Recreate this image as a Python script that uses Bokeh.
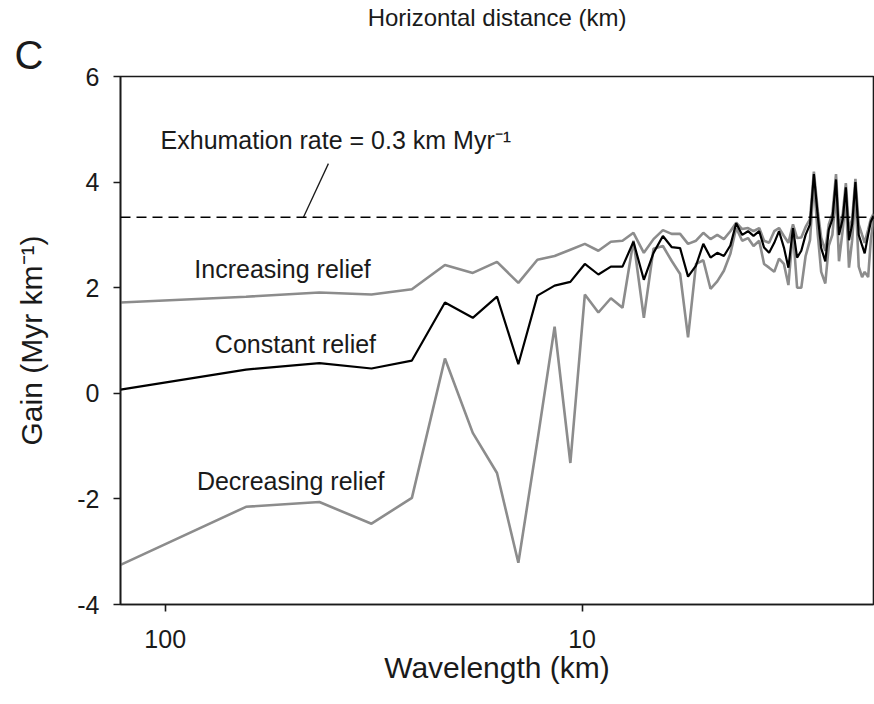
from bokeh.plotting import figure
from bokeh.models import Range1d, FixedTicker, Span, Label, Title
from bokeh.embed import file_html
from bokeh.resources import INLINE

# Wavelengths (km) of the spectral components, longest first
wavelength_km = [
    128, 64, 42.67, 32, 25.6, 21.33, 18.29, 16, 14.22, 12.8,
    11.64, 10.67, 9.85, 9.14, 8.53, 8, 7.53, 7.11, 6.74, 6.4,
    6.1, 5.82, 5.57, 5.33, 5.12, 4.92, 4.74, 4.57, 4.41, 4.27,
    4.13, 4, 3.88, 3.76, 3.66, 3.56, 3.46, 3.37, 3.28, 3.2,
    3.12, 3.05, 2.98, 2.91, 2.84, 2.78, 2.72, 2.67, 2.61, 2.56,
    2.51, 2.46, 2.42, 2.37, 2.33, 2.29, 2.25, 2.21, 2.17, 2.13,
    2.1, 2.06, 2.03, 2,
]

# Gain (Myr km^-1) for the three relief scenarios
gain_increasing = [
    1.72, 1.83, 1.91, 1.87, 1.97, 2.43, 2.28, 2.49, 2.09, 2.53,
    2.60, 2.72, 2.83, 2.70, 2.87, 2.89, 3.04, 2.66, 2.92, 3.09,
    3.02, 3.02, 2.83, 2.89, 3.04, 2.92, 3.00, 2.92, 3.07, 3.23,
    3.11, 3.13, 3.07, 3.13, 2.89, 2.85, 3.07, 3.13, 2.98, 2.85,
    3.20, 2.94, 2.95, 3.15, 3.30, 4.20, 3.45, 2.95, 2.70, 3.20,
    3.40, 4.15, 3.15, 3.40, 3.98, 3.10, 3.30, 4.06, 3.20, 3.00,
    2.85, 3.10, 3.30, 3.40,
]
gain_constant = [
    0.07, 0.45, 0.57, 0.47, 0.62, 1.72, 1.43, 1.83, 0.55, 1.85,
    2.04, 2.11, 2.45, 2.25, 2.40, 2.40, 2.87, 2.15, 2.66, 2.98,
    2.77, 2.75, 2.21, 2.42, 2.83, 2.57, 2.66, 2.60, 2.80, 3.22,
    3.00, 3.07, 2.98, 3.07, 2.76, 2.66, 2.85, 3.07, 2.76, 2.38,
    3.13, 2.57, 2.70, 3.00, 3.20, 4.15, 3.35, 2.75, 2.50, 3.10,
    3.30, 4.05, 3.00, 3.30, 3.90, 2.90, 3.20, 4.00, 3.00, 2.80,
    2.65, 3.00, 3.25, 3.36,
]
gain_decreasing = [
    -3.25, -2.15, -2.06, -2.47, -1.98, 0.66, -0.75, -1.51, -3.21, -0.90,
    1.26, -1.32, 1.87, 1.53, 1.80, 1.62, 2.89, 1.43, 2.74, 2.79,
    2.51, 2.26, 1.06, 2.45, 2.52, 1.98, 2.12, 2.32, 2.64, 3.13,
    2.89, 2.94, 2.79, 2.89, 2.45, 2.38, 2.30, 2.55, 2.45, 2.05,
    3.07, 2.00, 2.00, 2.60, 2.90, 4.00, 3.00, 2.30, 2.08, 2.80,
    3.00, 3.80, 2.50, 3.10, 3.70, 2.38, 2.90, 3.80, 2.40, 2.20,
    2.30, 2.20, 2.90, 3.30,
]

exhumation_rate = 0.3  # km Myr^-1; steady-state gain is its inverse

x_ticks = [100, 10]
y_ticks = [-4, -2, 0, 2, 4, 6]

FONT = "Liberation Sans"
INK = "#1a1a1a"
GREY = "#8c8c8c"

p = figure(
    width=874, height=704,
    x_axis_type="log",
    x_range=Range1d(128, 2), y_range=Range1d(-4, 6),
    output_backend="svg", toolbar_location=None,
    min_border_left=120, min_border_right=1,
    min_border_top=76, min_border_bottom=100,
)
p.title.visible = False
p.background_fill_color = "white"
p.border_fill_color = "white"
p.outline_line_color = INK
p.outline_line_width = 1.6
p.xgrid.visible = False
p.ygrid.visible = False

# Panel letter (nearest the frame) and the axis title of the panel above it
p.add_layout(Title(text="C", align="left", offset=-106, standoff=0,
                   text_font=FONT, text_font_size="40px",
                   text_font_style="normal", text_color=INK), "above")
p.add_layout(Title(text="Horizontal distance (km)", align="center", offset=-8,
                   standoff=0, text_font=FONT, text_font_size="24px",
                   text_font_style="normal", text_color=INK), "above")

# Axes
p.xaxis.ticker = FixedTicker(ticks=x_ticks, minor_ticks=[])
p.xaxis.major_label_overrides = {t: str(t) for t in x_ticks}
p.yaxis.ticker = FixedTicker(ticks=y_ticks, minor_ticks=[])
p.yaxis.major_label_overrides = {t: str(t) for t in y_ticks}
p.xaxis.axis_label = "Wavelength (km)"
p.yaxis.axis_label = "Gain (Myr km\u207b\u00b9)"
for ax in (p.xaxis, p.yaxis):
    ax.axis_line_color = INK
    ax.axis_line_width = 1.6
    ax.major_tick_line_color = INK
    ax.major_tick_line_width = 1.6
    ax.major_tick_out = 7
    ax.major_tick_in = 0
    ax.minor_tick_line_color = None
    ax.major_label_text_font = FONT
    ax.major_label_text_font_size = "25px"
    ax.major_label_text_color = INK
    ax.axis_label_text_font = FONT
    ax.axis_label_text_font_size = "30px"
    ax.axis_label_text_font_style = "normal"
    ax.axis_label_text_color = INK
p.xaxis.major_label_standoff = 18
p.xaxis.axis_label_standoff = 0
p.yaxis.major_label_standoff = 14
p.yaxis.major_label_orientation = "horizontal"
p.yaxis.axis_label_standoff = 26

# Gain curves
p.line(wavelength_km, gain_increasing, line_color=GREY, line_width=2.6)
p.line(wavelength_km, gain_decreasing, line_color=GREY, line_width=2.6)
p.line(wavelength_km, gain_constant, line_color="black", line_width=2.2)

# Steady-state gain for the given exhumation rate
p.add_layout(Span(location=1.0 / exhumation_rate, dimension="width",
                  line_color="black", line_width=1.6, line_dash="10 6"))

def note(text, x, y, align="center"):
    p.add_layout(Label(x=x, y=y, text=text, text_font=FONT,
                       text_font_size="25px", text_color=INK,
                       text_align=align, text_baseline="middle"))

note("Exhumation rate = 0.3 km Myr\u207b\u00b9", 102.6, 4.8, align="left")
p.segment(x0=[40.6], y0=[4.35], x1=[46.6], y1=[1.0 / exhumation_rate],
          line_color=INK, line_width=1.3)
note("Increasing relief", 52.3, 2.35)
note("Constant relief", 48.7, 0.94)
note("Decreasing relief", 50.0, -1.67)

open("out.html", "w").write(file_html(p, INLINE))
